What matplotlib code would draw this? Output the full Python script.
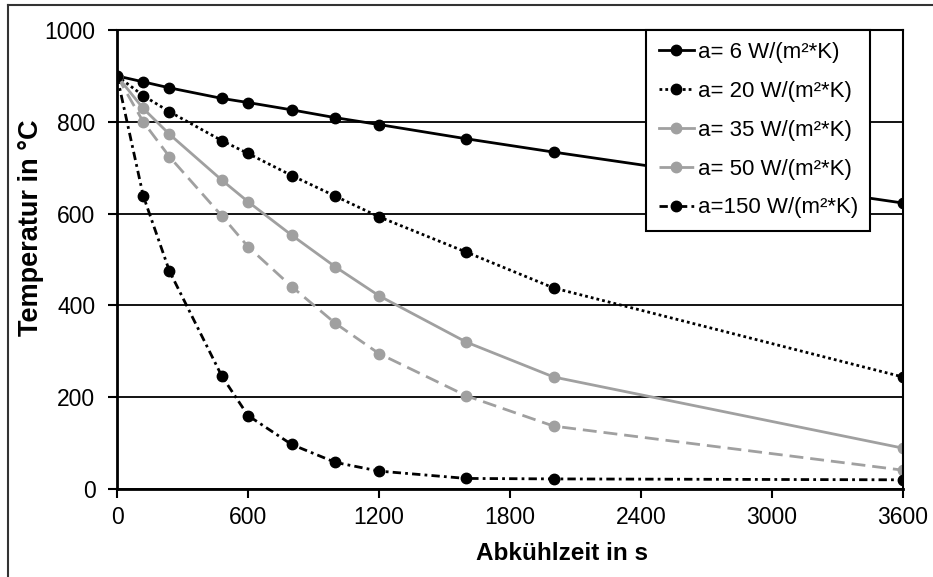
import matplotlib.pyplot as plt
from matplotlib.lines import Line2D

plt.rcParams['font.family'] = ['Liberation Sans', 'DejaVu Sans']

# Abkühlzeit in s
t = [0, 120, 240, 480, 600, 800, 1000, 1200, 1600, 2000, 3600]

# Temperatur in °C for each heat transfer coefficient
temp_6 = [900, 887, 874, 851, 842, 826, 809, 794, 763, 734, 623]
temp_20 = [900, 857, 822, 759, 731, 683, 638, 593, 516, 438, 244]
temp_35 = [900, 829, 773, 673, 626, 553, 484, 421, 320, 244, 89]
temp_50 = [900, 800, 724, 595, 528, 441, 361, 295, 203, 137, 41]
temp_150 = [900, 639, 475, 246, 160, 97, 58, 39, 23, 22, 20]

labels = ['a= 6 W/(m²*K)', 'a= 20 W/(m²*K)', 'a= 35 W/(m²*K)',
          'a= 50 W/(m²*K)', 'a=150 W/(m²*K)']

gray = '#a0a0a0'
ms = 7.5

fig = plt.figure(figsize=(9.33, 5.77), dpi=100)
ax = fig.add_axes([117 / 933, 1 - 489 / 577, 786 / 933, 459 / 577])

ax.plot(t, temp_6, color='black', lw=2, ls='-', marker='o', ms=ms, label=labels[0])
ax.plot(t, temp_20, color='black', lw=2, ls=(0, (1, 1.1)), marker='o', ms=ms, label=labels[1])
ax.plot(t, temp_35, color=gray, lw=2, ls='-', marker='o', ms=ms, label=labels[2])
ax.plot(t, temp_50, color=gray, lw=2, ls=(0, (5, 2.5)), marker='o', ms=ms, label=labels[3])
ax.plot(t, temp_150, color='black', lw=2, ls=(0, (3, 1.5, 1, 1.5)), marker='o', ms=ms, label=labels[4])

ax.set_xlim(0, 3600)
ax.set_ylim(0, 1000)
ax.set_xticks([0, 600, 1200, 1800, 2400, 3000, 3600])
ax.set_yticks([0, 200, 400, 600, 800, 1000])
ax.yaxis.grid(True, color='black', lw=1.3)
ax.set_axisbelow(True)
for s in ax.spines.values():
    s.set_linewidth(1.5)
    s.set_color('black')
ax.spines['left'].set_linewidth(2)
ax.spines['bottom'].set_linewidth(2)
ax.tick_params(direction='out', length=6.5, width=1.5, labelsize=16.5)
ax.tick_params(axis='y', pad=9)
ax.tick_params(axis='x', pad=6)

ax.set_xlabel('Abkühlzeit in s', fontsize=17.5, fontweight='bold')
ax.set_ylabel('Temperatur in °C', fontsize=19.5, fontweight='bold')
ax.xaxis.set_label_coords(0.566, -0.115)
ax.yaxis.set_label_coords(-0.093, 0.569)

leg = ax.legend(loc='upper right', bbox_to_anchor=(870 / 933, 1 - 30 / 577),
                bbox_transform=fig.transFigure, borderaxespad=0, fontsize=16,
                fancybox=False, framealpha=1, edgecolor='black',
                handlelength=1.6, handletextpad=0.15, labelspacing=0.8,
                borderpad=0.55)
leg.get_frame().set_linewidth(1.5)

# outer frame of the picture (cropped at right and bottom)
fig.add_artist(Line2D([8 / 933, 1], [1 - 5 / 577, 1 - 5 / 577], color='#333333', lw=1.5,
                      transform=fig.transFigure))
fig.add_artist(Line2D([8 / 933, 8 / 933], [0, 1 - 5 / 577], color='#333333', lw=1.5,
                      transform=fig.transFigure))

fig.savefig('out.png', dpi=100)
